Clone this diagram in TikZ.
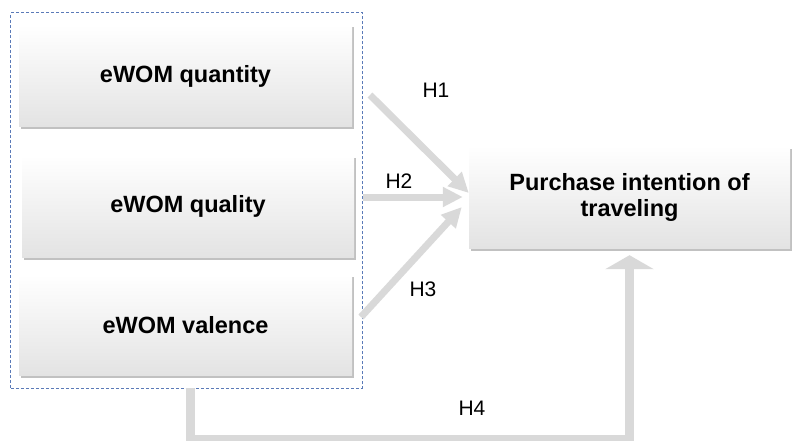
\documentclass[tikz,border=0pt]{standalone}
\usepackage{fontspec}
\setmainfont{Liberation Sans}
\usetikzlibrary{positioning, arrows.meta, shadows, fit}
\definecolor{grpblue}{HTML}{5A7AB8}
\tikzset{>={Triangle[length=20pt,width=19pt]},
factor/.style={minimum width=333pt, minimum height=102pt, top color=white, bottom color=black!11,
  drop shadow={shadow xshift=1.5pt, shadow yshift=-2.5pt, opacity=.35, fill=black!70},
  font=\fontsize{23.5}{26}\selectfont\bfseries, align=center},
link/.style={->, line width=7pt, draw=black!15},
hyp/.style={font=\fontsize{21}{24}\selectfont}}

\begin{document}
\begin{tikzpicture}[x=1pt, y=-1pt]
\useasboundingbox (0,0) rectangle (792,441);
\node[factor] (qty) at (185.5,76) {eWOM quantity};
\node[factor, below=28pt of qty, xshift=2.5pt, minimum width=332pt] (qlt) {eWOM quality};
\node[factor, below=17pt of qlt, xshift=-2.5pt, minimum height=101pt] (val) {eWOM valence};
\node[factor, minimum width=321pt] (pur) at (629.5,197) {Purchase intention of\\traveling};
\node[draw=grpblue, line width=.7pt, dash pattern=on 3pt off 2pt, fit=(qty)(qlt)(val),
  inner xsep=8pt, inner ysep=12pt] (grp) {};
\coordinate (h1s) at (370,95);
\coordinate (h3s) at (361,317);
\draw[link] (h1s) -- ([yshift=4pt]pur.west);
\draw[link, shorten >=6pt] (grp.east |- pur.west) -- (pur.west);
\draw[link] (h3s) -- ([xshift=-7pt,yshift=-10pt]pur.west);
\draw[link, line width=9pt, >={Triangle[length=14pt,width=48pt]}]
  ([xshift=3.5pt]grp.south) -- ++(0,51) -| ([yshift=-7pt]pur.south);
\node[hyp] (h1) at (436,90) {H1};
\node[hyp] (h2) at (399,181) {H2};
\node[hyp] (h3) at (423,289) {H3};
\node[hyp] (h4) at (472,408) {H4};
\end{tikzpicture}
\end{document}
